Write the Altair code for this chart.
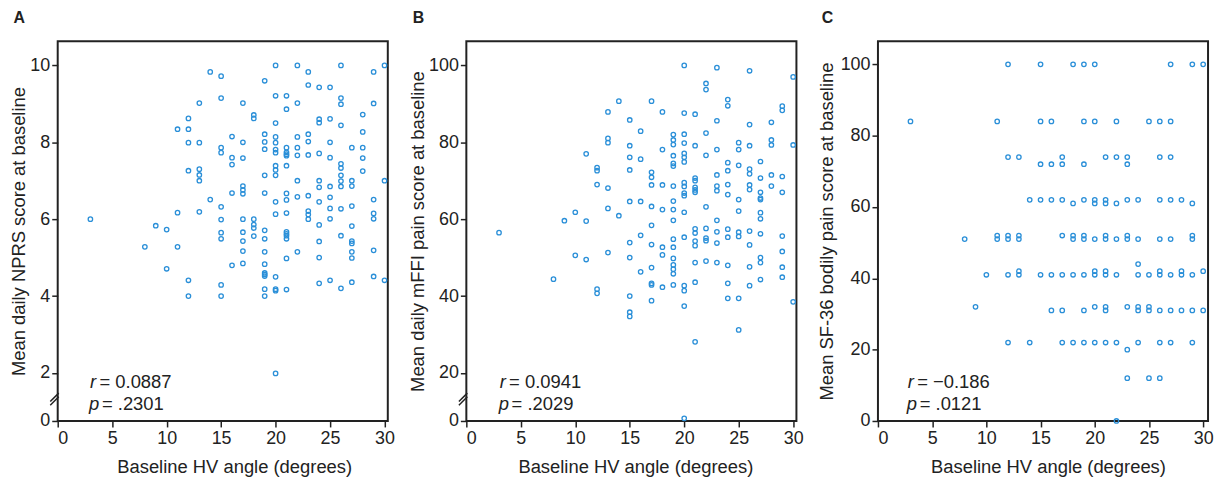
import altair as alt
import pandas as pd

BLUE = "#2a8fd8"
INK = "#222222"
FONT = "Liberation Sans"

# ---------------- Panel A: Mean daily NPRS ----------------
a_x = [3, 8, 9, 10, 10, 11, 11, 11,
       12, 12, 12, 12, 12, 12,
       13, 13, 13, 13, 13, 13,
       14, 14,
       15, 15, 15, 15, 15, 15, 15, 15, 15, 15,
       16, 16, 16, 16, 16,
       17, 17, 17, 17, 17, 17, 17, 17, 17, 17, 17,
       18, 18, 18, 18, 18, 18,
       19, 19, 19, 19, 19, 19, 19, 19, 19, 19, 19, 19, 19, 19, 19,
       20, 20, 20, 20, 20, 20, 20, 20, 20, 20, 20, 20, 20, 20, 20, 20,
       21, 21, 21, 21, 21, 21, 21, 21, 21, 21, 21, 21, 21, 21, 21, 21,
       22, 22, 22, 22, 22, 22, 22, 22,
       23, 23, 23, 23, 23, 23, 23, 23, 23,
       24, 24, 24, 24, 24, 24, 24, 24, 24, 24, 24,
       25, 25, 25, 25, 25, 25, 25, 25, 25,
       26, 26, 26, 26, 26, 26, 26, 26, 26, 26, 26, 26,
       27, 27, 27, 27, 27, 27, 27, 27, 27, 27,
       28, 28, 28, 28, 28,
       29, 29, 29, 29, 29, 29, 29,
       30, 30, 30]
a_y = [6.0, 5.28, 5.83, 5.73, 4.71, 8.34, 6.17, 5.28,
       8.62, 8.34, 7.99, 7.26, 4.41, 4.0,
       9.02, 7.99, 7.30, 7.15, 7.0, 6.19,
       9.83, 6.51,
       9.72, 9.15, 7.86, 7.73, 6.32, 5.99, 5.65, 5.49, 4.29, 4.0,
       8.15, 7.60, 7.42, 6.68, 4.80,
       9.02, 8.0, 7.59, 6.86, 6.76, 6.66, 6.0, 5.66, 5.43, 5.17, 4.85,
       8.71, 8.62, 6.0, 5.86, 5.77, 5.56,
       9.60, 8.21, 8.01, 7.82, 7.14, 6.68, 5.71, 5.49, 5.15, 4.83, 4.60, 4.56, 4.52, 4.18, 4.0,
       10.0, 9.21, 8.50, 8.14, 7.99, 7.81, 7.73, 7.39, 7.28, 7.14, 6.45, 6.13, 4.50, 4.18, 4.14, 1.98,
       9.21, 8.86, 7.86, 7.74, 7.69, 7.65, 7.39, 6.67, 6.50, 6.16, 5.67, 5.62, 5.57, 5.49, 4.98, 4.17,
       10.0, 9.02, 8.14, 7.86, 7.66, 7.0, 6.58, 5.15,
       9.83, 9.49, 8.21, 8.02, 7.67, 6.61, 6.21, 6.12, 6.0,
       9.43, 8.60, 8.51, 7.71, 7.0, 6.83, 6.45, 5.85, 5.42, 5.0, 4.33,
       9.43, 8.61, 8.0, 7.60, 6.85, 6.57, 6.28, 6.01, 4.41,
       10.0, 9.15, 8.99, 8.44, 7.44, 7.33, 7.14, 6.99, 6.85, 6.27, 5.57, 4.20,
       7.86, 7.0, 6.86, 6.34, 5.82, 5.43, 5.37, 5.15, 4.99, 4.36,
       8.72, 8.27, 7.86, 7.59, 7.25,
       9.83, 9.01, 6.51, 6.15, 6.01, 5.19, 4.51,
       10.0, 7.0, 4.41]

# ---------------- Panel B: Mean daily mFFI pain ----------------
b_x = [3, 8, 9, 10, 10, 11, 11, 11,
       12, 12, 12, 12, 12,
       13, 13, 13, 13, 13, 13,
       14, 14,
       15, 15, 15, 15, 15, 15, 15, 15, 15, 15,
       16, 16, 16, 16, 16,
       17, 17, 17, 17, 17, 17, 17, 17, 17, 17, 17,
       18, 18, 18, 18, 18, 18, 18,
       19, 19, 19, 19, 19, 19, 19, 19, 19, 19, 19, 19, 19, 19, 19, 19, 19,
       20, 20, 20, 20, 20, 20, 20, 20, 20, 20, 20, 20, 20, 20, 20, 20, 20,
       21, 21, 21, 21, 21, 21, 21, 21, 21, 21, 21, 21, 21, 21,
       22, 22, 22, 22, 22, 22, 22, 22, 22,
       23, 23, 23, 23, 23, 23, 23, 23, 23, 23,
       24, 24, 24, 24, 24, 24, 24, 24, 24, 24, 24,
       25, 25, 25, 25, 25, 25, 25, 25, 25,
       26, 26, 26, 26, 26, 26, 26, 26, 26, 26, 26,
       27, 27, 27, 27, 27, 27, 27, 27, 27, 27, 27,
       28, 28, 28, 28, 28,
       29, 29, 29, 29, 29, 29, 29, 29,
       30, 30, 30]
b_y = [56.5, 44.4, 59.6, 61.8, 50.6, 77.0, 59.5, 49.5,
       73.4, 72.6, 69.0, 41.8, 40.7,
       87.9, 81.0, 79.9, 68.1, 62.8, 51.3,
       90.7, 60.9,
       85.8, 79.1, 76.1, 72.8, 64.6, 53.9, 50.0, 40.0, 35.8, 34.7,
       82.9, 75.6, 64.6, 55.8, 46.3,
       90.7, 72.2, 70.9, 68.9, 63.3, 58.4, 53.4, 47.4, 43.3, 42.9, 38.8,
       87.9, 78.1, 68.9, 62.5, 52.7, 50.7, 42.3,
       82.0, 80.6, 79.4, 76.5, 74.5, 73.8, 68.6, 64.7, 62.5, 59.7, 54.8, 52.7, 49.8, 48.1, 47.0, 45.8, 42.9,
       100.0, 87.6, 82.1, 79.8, 77.1, 76.1, 74.9, 69.5, 68.5, 66.8, 66.1, 61.8, 55.3, 42.7, 41.4, 37.4, 1.1,
       87.3, 79.1, 70.7, 70.0, 68.3, 67.6, 67.0, 57.5, 56.4, 54.3, 53.1, 48.7, 43.6, 28.1,
       95.3, 93.7, 82.4, 76.6, 63.2, 57.6, 55.1, 54.4, 49.1,
       99.4, 85.6, 78.1, 71.5, 68.6, 67.4, 59.7, 56.7, 53.8, 48.7,
       91.1, 89.5, 74.7, 72.6, 69.0, 66.4, 57.4, 55.3, 48.0, 43.3, 39.4,
       79.9, 78.1, 74.0, 65.1, 62.1, 56.6, 55.5, 39.4, 31.2,
       98.6, 84.6, 79.1, 73.0, 71.8, 68.9, 67.7, 56.9, 53.3, 47.6, 42.7,
       75.0, 70.7, 67.0, 65.5, 65.1, 61.7, 60.1, 56.2, 50.0, 48.7, 44.3,
       85.2, 80.6, 79.3, 71.5, 68.6,
       89.4, 88.3, 71.1, 67.0, 55.6, 51.6, 47.5, 44.9,
       97.0, 79.3, 38.5]

# ---------------- Panel C: SF-36 bodily pain ----------------
c_x = [3, 8, 9, 10, 11, 11, 11,
       12, 12, 12, 12, 12, 12,
       13, 13, 13, 13, 13,
       14, 14,
       15, 15, 15, 15, 15,
       16, 16, 16, 16, 16,
       17, 17, 17, 17, 17, 17, 17,
       18, 18, 18, 18, 18, 18,
       19, 19, 19, 19, 19, 19, 19, 19, 19,
       20, 20, 20, 20, 20, 20, 20, 20, 20,
       21, 21, 21, 21, 21, 21, 21, 21, 21, 21,
       22, 22, 22, 22, 22, 22, 22,
       23, 23, 23, 23, 23, 23, 23, 23,
       24, 24, 24, 24, 24, 24, 24,
       25, 25, 25, 25, 25,
       26, 26, 26, 26, 26, 26, 26, 26, 26,
       27, 27, 27, 27, 27, 27, 27, 27,
       28, 28, 28, 28,
       29, 29, 29, 29, 29, 29, 29,
       30, 30, 30]
c_y = [84, 51, 32, 41, 84, 52, 51,
       100, 74, 52, 51, 41, 22,
       74, 52, 51, 42, 41,
       62, 22,
       100, 84, 72, 62, 41,
       84, 72, 62, 41, 31,
       74, 72, 62, 52, 41, 31, 22,
       100, 61, 52, 51, 41, 22,
       100, 84, 72, 62, 52, 51, 41, 31, 22,
       100, 84, 62, 61, 51, 42, 41, 32, 22,
       74, 62, 61, 52, 51, 42, 41, 32, 31, 22,
       84, 74, 61, 51, 41, 22, 0,
       74, 72, 62, 52, 51, 32, 20, 12,
       62, 51, 44, 41, 32, 31, 22,
       84, 41, 32, 31, 12,
       84, 74, 62, 51, 42, 41, 31, 22, 12,
       100, 84, 74, 62, 51, 41, 31, 22,
       62, 42, 41, 31,
       100, 61, 52, 51, 41, 31, 22,
       100, 42, 31]

letters = ["A", "B", "C"]
y_titles = ["Mean daily NPRS score at baseline",
            "Mean daily mFFI pain score at baseline",
            "Mean SF-36 bodily pain score at baseline"]
x_title = "Baseline HV angle (degrees)"
x_ticks = [0, 5, 10, 15, 20, 25, 30]
y_ticks = [[0, 2, 4, 6, 8, 10], [0, 20, 40, 60, 80, 100], [0, 20, 40, 60, 80, 100]]
r_vals = ["= 0.0887", "= 0.0941", "= \u22120.186"]
p_vals = ["= .2301", "= .2029", "= .0121"]

W, H = 332, 382


def panel(xs, ys, i, ydom, yrange, xmax, xtitle_x, ytitle_x, tx, broken):
    df = pd.DataFrame({"x": xs, "y": ys})
    if yrange is not None:
        ysc = alt.Scale(domain=ydom, range=yrange, nice=False, zero=False)
    else:
        ysc = alt.Scale(domain=ydom, nice=False, zero=False)
    pts = alt.Chart(df).mark_point(
        shape="circle", filled=False, size=20, strokeWidth=1.3,
        color=BLUE, opacity=1, clip=False
    ).encode(
        x=alt.X("x:Q", scale=alt.Scale(domain=[0, xmax], nice=False, zero=False),
                axis=alt.Axis(values=x_ticks, title=x_title, titleX=xtitle_x, format="d")),
        y=alt.Y("y:Q", scale=ysc,
                axis=alt.Axis(values=y_ticks[i], title=y_titles[i], format="d",
                              titleX=ytitle_x, titleBaseline="middle")),
    )
    tdf = pd.DataFrame({"r": [r_vals[i]], "p": [p_vals[i]]})
    base = alt.Chart(tdf)
    t_r = base.mark_text(text="r", font=FONT, fontSize=18.5, fontStyle="italic",
                         align="left", baseline="alphabetic", color=INK).encode(
        x=alt.value(tx), y=alt.value(349))
    t_r2 = base.mark_text(font=FONT, fontSize=18.5, align="left",
                          baseline="alphabetic", color=INK).encode(
        x=alt.value(tx + 9.5), y=alt.value(349), text="r:N")
    t_p = base.mark_text(text="p", font=FONT, fontSize=18.5, fontStyle="italic",
                         align="left", baseline="alphabetic", color=INK).encode(
        x=alt.value(tx - 1), y=alt.value(371))
    t_p2 = base.mark_text(font=FONT, fontSize=18.5, align="left",
                          baseline="alphabetic", color=INK).encode(
        x=alt.value(tx + 12), y=alt.value(371), text="p:N")
    layers = [pts, t_r, t_r2, t_p, t_p2]
    if broken:
        for dy in (0, 3.6):
            layers.append(base.mark_rule(color=INK, strokeWidth=1.5).encode(
                x=alt.value(-7.5), x2=alt.value(1.0),
                y=alt.value(362.5 + dy), y2=alt.value(354.0 + dy)))
    return alt.layer(*layers).properties(
        width=W, height=H,
        title=alt.TitleParams(letters[i], anchor="start", frame="bounds",
                              font=FONT, fontSize=16, fontWeight="bold",
                              color=INK, offset=15, dx=4))


pa = panel(a_x, a_y, 0, [0, 2, 10.63], [H, H - 48.3, 0], 30.3, 177.5, -39.5, 32.5, True)
pb = panel(b_x, b_y, 1, [0, 20, 106.3], [H, H - 48.3, 0], 30.3, 170, -49, 33.5, True)
pc = panel(c_x, c_y, 2, [0, 106.5], None, 30.45, 171, -51.5, 30, False)

chart = alt.hconcat(pa, pb, pc, spacing=12).properties(padding=0).configure_view(
    stroke=INK, strokeWidth=2
).configure_axis(
    grid=False, domain=False,
    ticks=True, tickColor=INK, tickWidth=1.5, tickSize=6,
    labelFont=FONT, labelFontSize=18, labelColor=INK, labelPadding=2,
    titleFont=FONT, titleFontSize=18.5, titleFontWeight="normal", titleColor=INK,
).configure_axisX(titlePadding=10, labelPadding=3)

chart.save("out.html", embed_options={"renderer": "svg", "actions": False})
